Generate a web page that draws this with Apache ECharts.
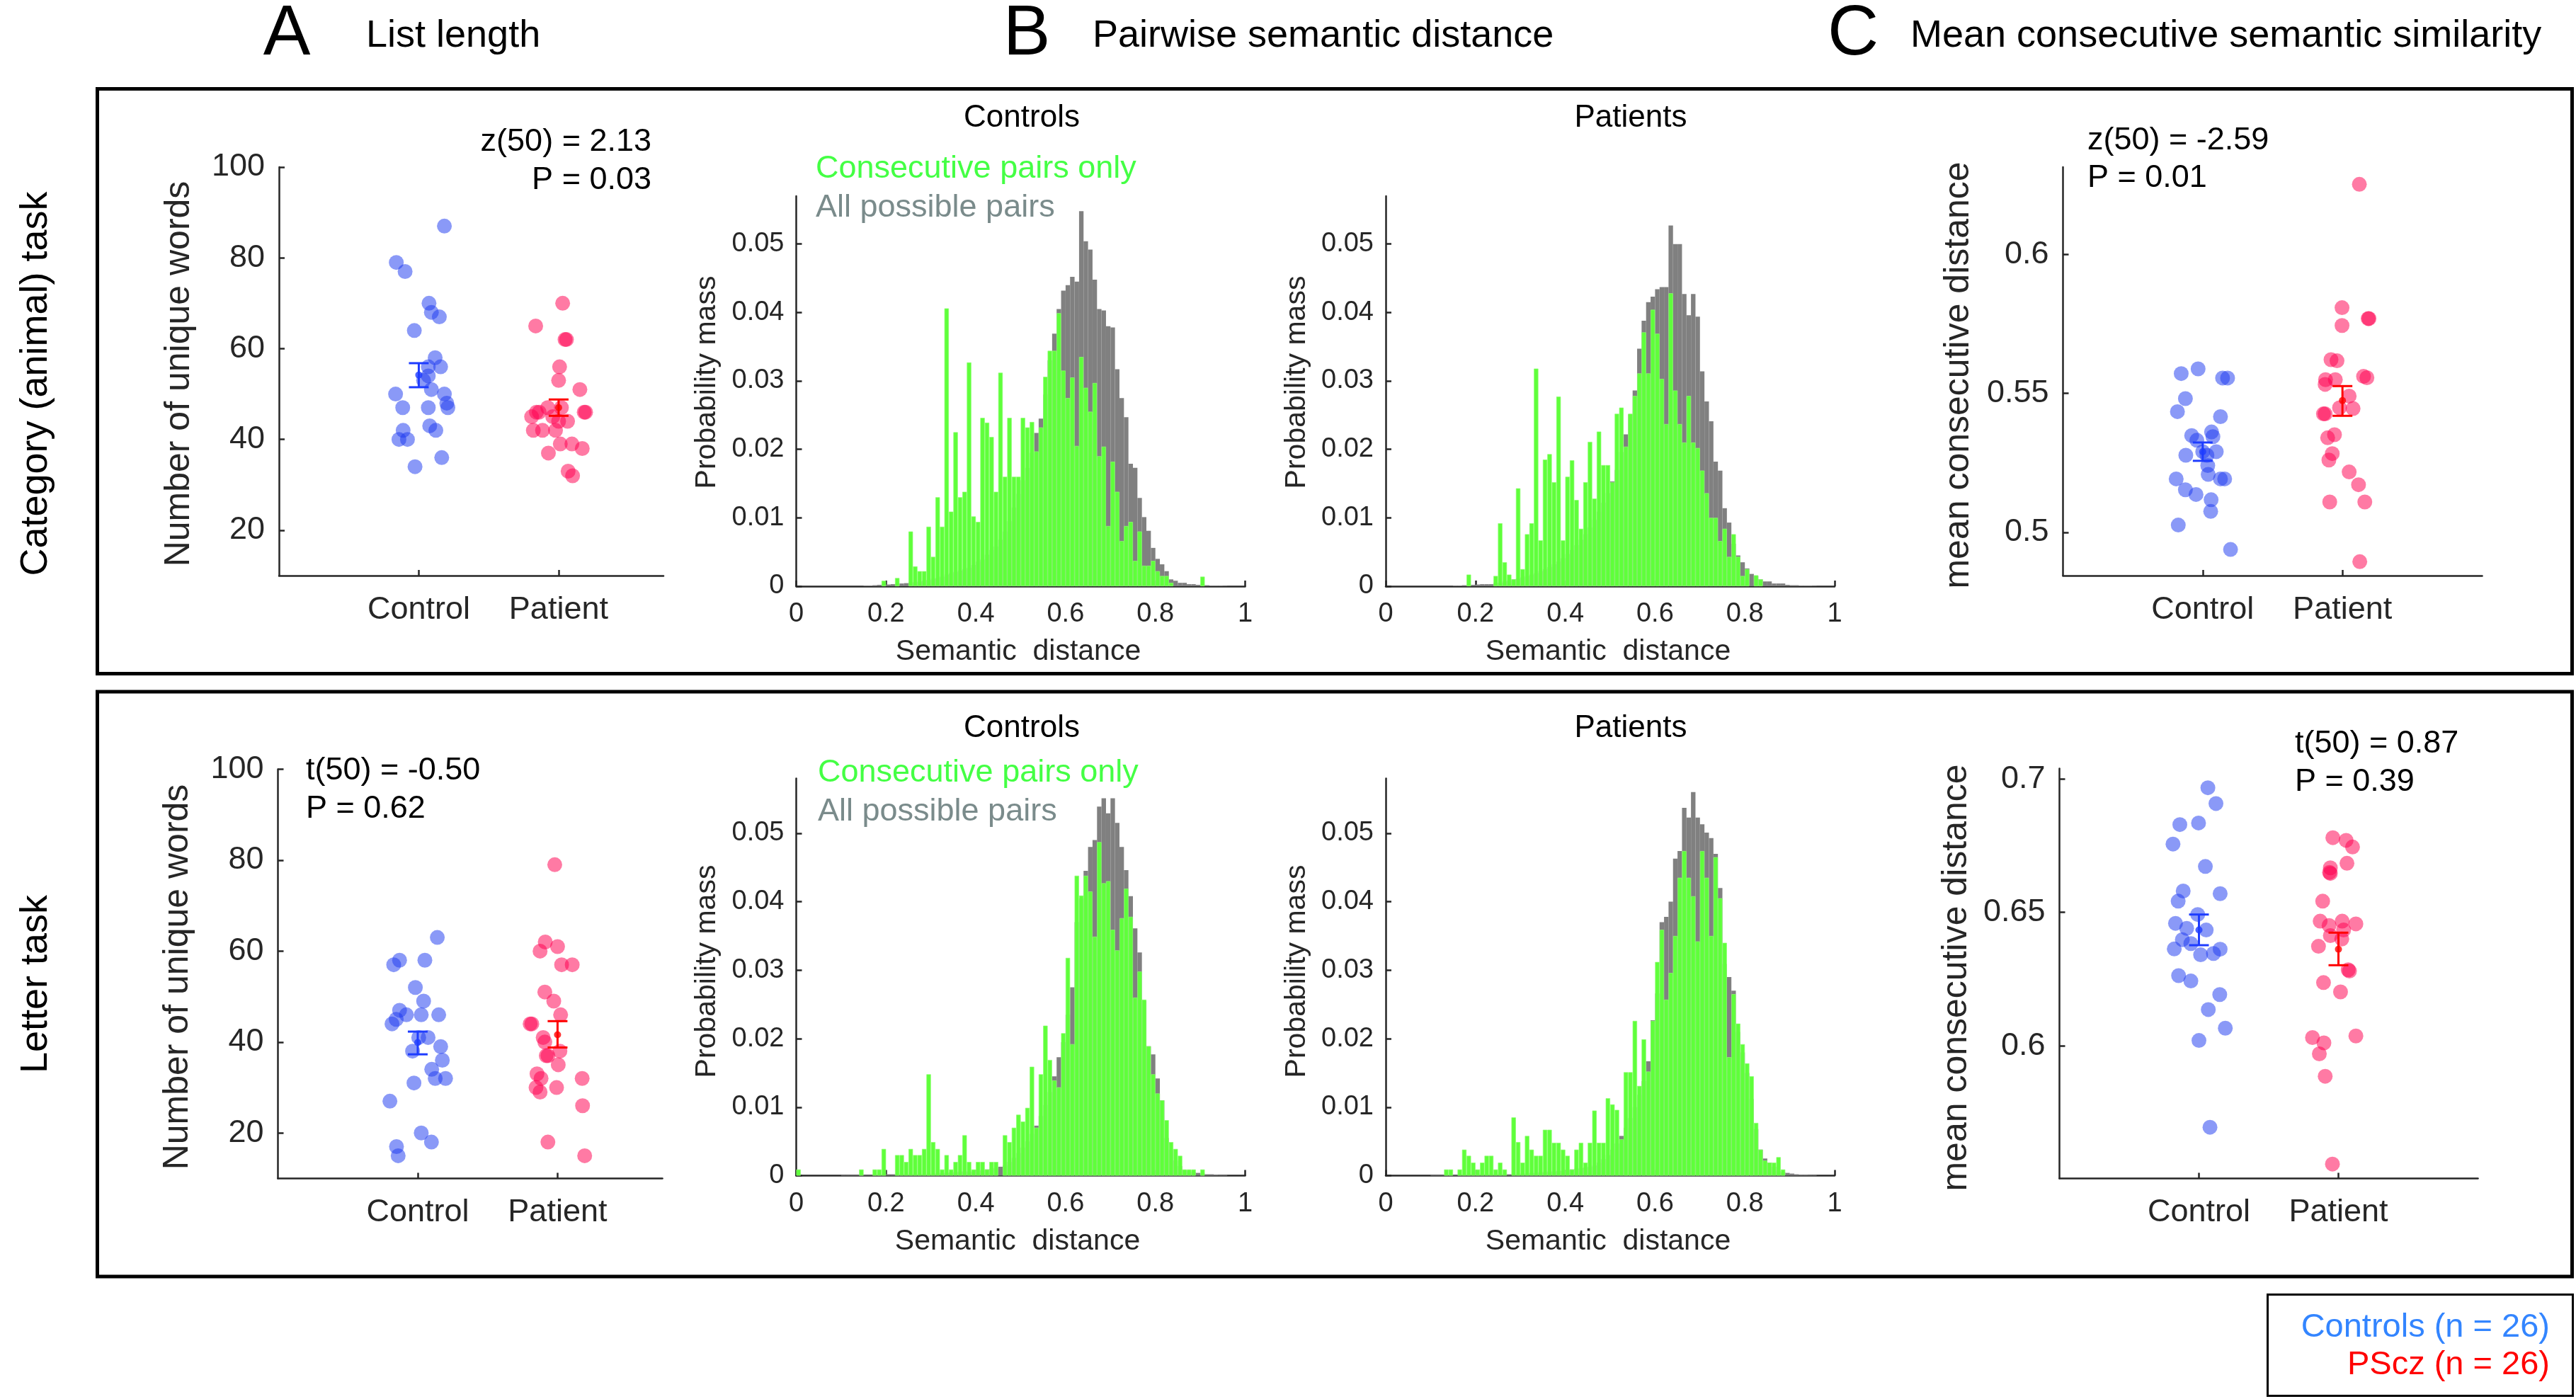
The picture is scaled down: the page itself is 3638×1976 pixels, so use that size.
<!DOCTYPE html>
<html>
<head>
<meta charset="utf-8">
<script src="https://cdn.jsdelivr.net/npm/echarts@6/dist/echarts.min.js"></script>
<style>
html,body{margin:0;padding:0;background:#ffffff;}
#chart{width:3638px;height:1976px;}
</style>
</head>
<body>
<div id="chart"></div>
<script>
// ================= DATA =================
const groupNames = ['Control', 'Patient'];
const groupPositions = [1, 2];

// Panel A: number of unique words, [jittered x, value]
const listLenAnimalCtrl = [[1.183,87],[0.839,79],[0.902,77],[1.073,70],[1.090,68],[1.147,67],[0.968,64],[1.117,58],[1.068,56],[1.156,56],[1.068,54],[1.034,53],[1.090,51],[0.834,50],[1.183,50],[1.200,48],[1.208,47],[0.885,47],[1.068,47],[0.888,42],[1.078,43],[1.122,42],[0.858,40],[0.919,40],[1.164,36],[0.973,34]];
const listLenAnimalPat = [[2.029,70],[1.836,65],[2.056,62],[2.046,62],[2.007,56],[2.000,53],[2.152,51],[1.922,47],[2.020,47],[1.861,46],[1.841,46],[2.183,46],[2.193,46],[1.807,45],[1.958,45],[2.000,44],[2.064,44],[1.819,42],[1.885,42],[1.978,42],[2.012,39],[2.095,39],[2.169,38],[1.927,37],[2.068,33],[2.100,32]];
const listLenLetterCtrl = [[1.140,63],[0.870,58],[0.828,57],[1.051,58],[0.983,52],[1.042,49],[0.870,47],[0.919,46],[1.025,46],[1.150,46],[0.846,45],[0.816,44],[1.007,41],[1.074,41],[1.164,39],[0.963,38],[1.176,36],[1.100,34],[1.125,32],[1.199,32],[0.973,31],[0.801,27],[1.025,20],[1.098,18],[0.848,17],[0.860,15]];
const listLenLetterPat = [[1.980,79],[1.912,62],[2.000,61],[1.875,60],[2.029,57],[2.105,57],[1.909,51],[1.973,49],[2.022,46],[1.804,44],[1.816,44],[1.897,41],[1.909,40],[2.017,38],[1.919,37],[1.931,37],[2.005,35],[1.853,33],[1.882,32],[2.176,32],[1.846,30],[1.993,30],[1.875,29],[2.179,26],[1.931,18],[2.194,15]];

// Panel C: mean consecutive distance, [jittered x, value]
const consecAnimalCtrl = [[0.967,0.5588],[0.846,0.5571],[1.142,0.5555],[1.178,0.5555],[0.876,0.5481],[0.819,0.5434],[1.127,0.5416],[0.921,0.5348],[1.063,0.5361],[1.073,0.5344],[0.958,0.5331],[1.000,0.5290],[1.097,0.5290],[0.879,0.5277],[1.030,0.5277],[1.036,0.5240],[1.039,0.5208],[0.810,0.5192],[1.127,0.5192],[1.157,0.5192],[0.876,0.5153],[0.952,0.5136],[1.060,0.5117],[1.057,0.5075],[0.825,0.5026],[1.199,0.4938]];
const consecAnimalPat = [[2.121,0.6252],[1.997,0.5808],[2.184,0.5769],[2.190,0.5769],[1.997,0.5744],[1.918,0.5621],[1.961,0.5617],[1.879,0.5549],[1.949,0.5549],[2.151,0.5561],[2.175,0.5556],[1.876,0.5532],[2.048,0.5490],[1.979,0.5448],[2.076,0.5445],[1.864,0.5426],[1.876,0.5426],[1.943,0.5351],[1.894,0.5340],[1.927,0.5283],[1.903,0.5260],[2.048,0.5217],[2.115,0.5171],[1.909,0.5109],[2.160,0.5109],[2.124,0.4894]];
const consecLetterCtrl = [[1.064,0.6967],[1.122,0.6908],[0.997,0.6835],[0.863,0.6829],[0.814,0.6756],[1.046,0.6672],[0.887,0.6580],[1.152,0.6570],[0.851,0.6542],[0.991,0.6492],[0.832,0.6459],[0.912,0.6440],[1.052,0.6434],[0.881,0.6398],[0.942,0.6383],[0.823,0.6363],[1.152,0.6362],[1.012,0.6341],[1.104,0.6346],[0.854,0.6263],[0.942,0.6243],[1.149,0.6192],[1.067,0.6136],[1.189,0.6066],[1.000,0.6020],[1.079,0.5695]];
const consecLetterPat = [[1.960,0.6780],[2.055,0.6770],[2.101,0.6745],[2.061,0.6684],[1.942,0.6667],[1.936,0.6650],[1.942,0.6646],[1.887,0.6542],[1.869,0.6467],[2.027,0.6467],[2.125,0.6457],[1.933,0.6451],[2.037,0.6434],[1.942,0.6413],[2.024,0.6400],[1.857,0.6373],[2.070,0.6285],[2.079,0.6280],[1.893,0.6237],[2.015,0.6202],[2.125,0.6037],[1.814,0.6031],[1.896,0.6011],[1.863,0.5970],[1.905,0.5886],[1.957,0.5557]];

// group mean with error bar: [x, mean, low, high]
const listLenAnimalSummary = [[1,54.2,51.5,56.8],[2,47.0,45.2,48.8]];
const listLenLetterSummary = [[1,39.9,37.3,42.3],[2,41.6,38.8,44.6]];
const consecAnimalSummary = [[1,0.5290,0.5257,0.5323],[2,0.5474,0.5419,0.5526]];
const consecLetterSummary = [[1,0.6434,0.6377,0.6492],[2,0.6362,0.6302,0.6424]];

// tick values
const ticksListLen = [20,40,60,80,100];
const ticksConsecAnimal = [0.5,0.55,0.6];
const ticksConsecLetter = [0.6,0.65,0.7];
const ticksHistX = [0,0.2,0.4,0.6,0.8,1];
const ticksHistY = [0,0.01,0.02,0.03,0.04,0.05];

// Panel B histograms: probability mass per bin of width 0.01 (bins 0..0.99)
const histBinWidth = 0.01;
const histAnimalCtrlConsec = [0,0,0,0,0,0,0,0,0,0,0,0,0,0,0,0,0,0,0,.0008,0,0,.0012,0,0,
.0080,.0029,.0022,.0022,.0087,.0043,.0130,.0087,.0406,.0109,.0225,.0130,.0138,.0327,.0102,
.0094,.0246,.0239,.0218,.0138,.0312,.0160,.0246,.0160,.0160,.0246,.0232,.0240,.0197,.0232,
.0306,.0344,.0344,.0399,.0315,.0275,.0305,.0205,.0335,.0290,.0255,.0297,.0190,.0204,.0088,
.0182,.0138,.0066,.0088,.0094,.0037,.0080,.0030,.0030,.0037,.0022,.0015,.0015,.0005,
0,0,0,0,0,0,.0014,0,0,0,0,0,0,0,0,0];
const histAnimalCtrlAll = [0,0,0,0,0,0,0,0,0,0,0,0,0,0,0,
.0001,.0001,.00015,.0002,.0002,.00025,.0003,.00035,.0004,.00045,
.0005,.0006,.0007,.0008,.0009,.0011,.0012,.0014,.0017,.0019,
.0021,.0023,.0025,.0027,.0031,.0036,.0039,.0046,.0053,.0058,
.0068,.0080,.0095,.0115,.0135,.0155,.0173,.0195,.0224,.0245,
.0280,.0330,.0369,.0405,.0432,.0440,.0452,.0445,.0548,.0504,
.0492,.0448,.0405,.0403,.0380,.0378,.0317,.0275,.0247,.0179,
.0173,.0129,.0101,.0081,.0056,.0040,.0032,.0022,.0010,.0008,
.0005,.0005,.0003,.0003,.0002,.0002,.00015,.0001,.0001,.0001,
.00005,0,0,0,0];
const histAnimalPatConsec = [0,0,0,0,0,0,0,0,0,0,0,0,0,0,0,0,0,0,.0017,0,0,0,0,0,
.0015,.0092,.0035,.0017,.0010,.0143,.0025,.0076,.0092,.0318,.0067,
.0185,.0193,.0152,.0277,.0067,.0160,.0184,.0126,.0084,.0152,
.0211,.0128,.0226,.0177,.0177,.0152,.0252,.0261,.0204,.0252,
.0278,.0311,.0371,.0311,.0404,.0369,.0303,.0237,.0428,.0286,
.0237,.0210,.0278,.0210,.0202,.0169,.0136,.0100,.0100,.0066,
.0084,.0043,.0076,.0043,.0015,.0025,0,.0016,.0010,
0,0,0,0,0,0,0,0,0,0,0,0,0,0,0,0];
const histAnimalPatAll = [0,0,0,0,0,0,0,0,0,0,0,0,0,0,0,
.0001,.0001,.00015,.0002,.0002,.00025,.0003,.0003,.0003,.0005,
.0005,.0007,.0008,.0010,.0011,.0013,.0015,.0017,.0019,.0022,
.0025,.0028,.0032,.0036,.0041,.0047,.0053,.0060,.0068,.0076,
.0086,.0097,.0109,.0122,.0136,.0153,.0170,.0196,.0222,.0251,
.0286,.0347,.0388,.0415,.0423,.0434,.0437,.0437,.0527,.0500,
.0500,.0427,.0396,.0427,.0394,.0314,.0270,.0241,.0182,.0169,
.0114,.0093,.0062,.0045,.0035,.0026,.0018,.0015,.0010,.0007,
.0007,.0004,.0004,.0004,.0002,.00015,.00015,.0001,.0001,.0001,
.00005,0,0,0,0];
const histLetterCtrlConsec = [.0009,0,0,0,0,0,0,0,0,0,0,0,0,0,.0009,0,0,.0009,.0009,.0039,0,0,
.0030,.0030,.0020,.0039,.0030,.0030,.0039,.0148,.0049,.0039,.0009,.0030,.0009,
.0020,.0030,.0059,.0020,.0009,.0020,.0020,.0009,.0020,.0020,
0,.0059,.0049,.0070,.0089,.0079,.0099,.0159,.0070,.0148,
.0219,.0169,.0139,.0129,.0208,.0318,.0192,.0438,.0409,.0438,
.0415,.0349,.0487,.0427,.0430,.0359,.0329,.0376,.0419,.0378,
.0260,.0298,.0257,.0189,.0148,.0120,.0110,.0081,.0049,.0039,
.0029,.0009,.0009,.0009,0,.0009,0,0,0,0,0,0,0,0,0];
const histLetterCtrlAll = [0,0,0,0,0,0,0,0,0,0,
.0001,.0001,.0001,.0001,.0001,.0001,.0001,.0001,.0001,.0001,
.0002,.0002,.0002,.0002,.0002,.0002,.0002,.0002,.0002,.0002,
.0003,.0003,.0004,.0004,.0005,.0005,.0006,.0006,.0006,.0006,
.0007,.0008,.0009,.0010,.0011,.0013,.0015,.0020,.0026,.0033,
.0041,.0050,.0061,.0073,.0087,.0103,.0122,.0145,.0173,.0195,
.0235,.0275,.0370,.0405,.0445,.0480,.0490,.0539,.0551,.0529,
.0551,.0515,.0480,.0446,.0408,.0361,.0326,.0255,.0189,.0177,
.0142,.0110,.0055,.0038,.0022,.0014,.0008,.0007,.0005,.0004,
.0003,.0002,.0002,.00015,.0001,.0001,0,0,0,0];
const histLetterPatConsec = [0,0,0,0,0,0,0,0,0,0,0,0,0,
.0009,.0009,0,.0009,.0038,.0029,.0019,
.0009,.0019,.0029,.0029,.0009,.0019,.0009,0,.0085,.0049,
.0019,.0058,.0038,.0029,.0029,.0067,.0067,.0048,.0048,.0038,
.0029,.0009,.0038,.0048,.0019,.0048,.0095,.0048,.0048,.0113,
.0104,.0096,.0053,.0151,.0151,.0226,.0131,.0199,.0152,.0226,
.0312,.0359,.0257,.0296,.0350,.0435,.0474,.0435,.0408,.0342,
.0474,.0435,.0350,.0465,.0405,.0340,.0173,.0265,.0222,.0192,
.0164,.0145,.0077,.0038,.0022,.0019,.0019,.0027,.0009,
0,0,0,0,0,0,0,0,0,0,0];
const histLetterPatAll = [0,0,0,0,0,0,0,0,0,0,
.0001,.0001,.0001,.0001,.0001,.0001,.0001,.0001,.0001,.0001,
.0002,.0002,.0002,.0002,.0002,.0002,.0002,.0002,.0002,.0002,
.0003,.0003,.0004,.0004,.0005,.0005,.0006,.0006,.0007,.0007,
.0008,.0009,.0010,.0011,.0012,.0013,.0015,.0019,.0024,.0030,
.0038,.0047,.0058,.0070,.0084,.0100,.0118,.0138,.0167,.0227,
.0266,.0370,.0378,.0400,.0463,.0474,.0537,.0523,.0560,.0523,
.0513,.0501,.0493,.0470,.0420,.0309,.0290,.0270,.0210,.0180,
.0150,.0112,.0068,.0038,.0025,.0019,.0013,.0007,.0005,.0004,
.0003,.0002,.00015,.00015,.0001,.0001,0,0,0,0];

// ================= STYLE / LAYOUT =================
const FONT = "'Liberation Sans', Arial, Helvetica, sans-serif";
const TXT = '#262626';
const CTRL_PT = 'rgba(30,60,240,0.65)';
const PAT_PT = 'rgba(255,0,80,0.65)';
const CTRL_MEAN = '#1e3cff';
const PAT_MEAN = '#ff0000';
const GRAY = '#808080';
const GREEN = '#5fff3b';

const grids = [], xAxes = [], yAxes = [], series = [];

function axisBase() {
  return {
    axisLine: { show: true, onZero: false, lineStyle: { color: TXT, width: 2.5 } },
    splitLine: { show: false },
    axisPointer: { show: false }
  };
}

function addScatterPanel(box, ctrl, pat, summary, yMin, yMax, yTicks, xMax) {
  const i = grids.length;
  grids.push({ left: box.left, top: box.top, width: box.width, height: box.height, containLabel: false });
  xAxes.push(Object.assign(axisBase(), {
    gridIndex: i, type: 'value', min: 0, max: xMax,
    axisTick: { show: true, inside: true, length: 8, customValues: groupPositions, lineStyle: { color: TXT, width: 2.5 } },
    axisLabel: { show: true, customValues: groupPositions, margin: 26, fontSize: 45, fontFamily: FONT, color: TXT,
      formatter: v => groupNames[Math.round(v) - 1] }
  }));
  yAxes.push(Object.assign(axisBase(), {
    gridIndex: i, type: 'value', min: yMin, max: yMax,
    axisTick: { show: true, inside: true, length: 8, customValues: yTicks, lineStyle: { color: TXT, width: 2.5 } },
    axisLabel: { show: true, customValues: yTicks, margin: 20, fontSize: 45, fontFamily: FONT, color: TXT,
      formatter: v => String(v) }
  }));
  series.push({ type: 'scatter', xAxisIndex: i, yAxisIndex: i, data: ctrl, symbol: 'circle', symbolSize: 21,
    itemStyle: { color: CTRL_PT }, z: 2, silent: true });
  series.push({ type: 'scatter', xAxisIndex: i, yAxisIndex: i, data: pat, symbol: 'circle', symbolSize: 21,
    itemStyle: { color: PAT_PT }, z: 2, silent: true });
  series.push({
    type: 'custom', xAxisIndex: i, yAxisIndex: i, data: summary, z: 5, silent: true,
    renderItem: function (params, api) {
      const x = api.value(0), lo = api.value(2), hi = api.value(3);
      const p1 = api.coord([x, lo]), p2 = api.coord([x, hi]);
      const col = params.dataIndex === 0 ? CTRL_MEAN : PAT_MEAN;
      const w = 14, st = { stroke: col, lineWidth: 3 };
      return { type: 'group', children: [
        { type: 'line', shape: { x1: p1[0], y1: p1[1], x2: p2[0], y2: p2[1] }, style: st },
        { type: 'line', shape: { x1: p1[0] - w, y1: p1[1], x2: p1[0] + w, y2: p1[1] }, style: st },
        { type: 'line', shape: { x1: p2[0] - w, y1: p2[1], x2: p2[0] + w, y2: p2[1] }, style: st }
      ]};
    }
  });
  series.push({ type: 'scatter', xAxisIndex: i, yAxisIndex: i, z: 6, silent: true,
    data: summary.map(d => [d[0], d[1]]), symbol: 'circle', symbolSize: 10,
    itemStyle: { color: p => (p.dataIndex === 0 ? CTRL_MEAN : PAT_MEAN) } });
}

function addHistPanel(box, allArr, consecArr, yMax) {
  const i = grids.length;
  grids.push({ left: box.left, top: box.top, width: box.width, height: box.height, containLabel: false });
  xAxes.push(Object.assign(axisBase(), {
    gridIndex: i, type: 'value', min: 0, max: 1,
    axisTick: { show: true, inside: true, length: 8, customValues: ticksHistX, lineStyle: { color: TXT, width: 2.5 } },
    axisLabel: { show: true, customValues: ticksHistX, margin: 21, fontSize: 38, fontFamily: FONT, color: TXT,
      formatter: v => String(v) }
  }));
  yAxes.push(Object.assign(axisBase(), {
    gridIndex: i, type: 'value', min: 0, max: yMax,
    axisTick: { show: true, inside: true, length: 8, customValues: ticksHistY, lineStyle: { color: TXT, width: 2.5 } },
    axisLabel: { show: true, customValues: ticksHistY, margin: 17, fontSize: 38, fontFamily: FONT, color: TXT,
      formatter: v => String(v) }
  }));
  const toPairs = arr => arr.map((v, k) => [(k + 0.5) * histBinWidth, v]).filter(d => d[1] > 0);
  series.push({ type: 'bar', xAxisIndex: i, yAxisIndex: i, data: toPairs(allArr), barWidth: '100%', barGap: '-100%',
    itemStyle: { color: GRAY }, z: 2, silent: true });
  series.push({ type: 'bar', xAxisIndex: i, yAxisIndex: i, data: toPairs(consecArr), barWidth: '100%', barGap: '-100%',
    itemStyle: { color: GREEN, borderColor: '#8dff70', borderWidth: 0.7 }, z: 3, silent: true });
}

// Row 1: category (animal) task
addScatterPanel({ left: 394, top: 236, width: 543, height: 577 }, listLenAnimalCtrl, listLenAnimalPat, listLenAnimalSummary, 10, 100, ticksListLen, 2.75);
addHistPanel({ left: 1124.5, top: 277, width: 634, height: 551 }, histAnimalCtrlAll, histAnimalCtrlConsec, 0.057);
addHistPanel({ left: 1957, top: 277, width: 634, height: 551 }, histAnimalPatAll, histAnimalPatConsec, 0.057);
addScatterPanel({ left: 2913.5, top: 236, width: 592, height: 577 }, consecAnimalCtrl, consecAnimalPat, consecAnimalSummary, 0.4844, 0.6314, ticksConsecAnimal, 3);
// Row 2: letter task
addScatterPanel({ left: 392.5, top: 1086.5, width: 543, height: 578 }, listLenLetterCtrl, listLenLetterPat, listLenLetterSummary, 10, 100, ticksListLen, 2.75);
addHistPanel({ left: 1124.5, top: 1099.5, width: 634, height: 561 }, histLetterCtrlAll, histLetterCtrlConsec, 0.058);
addHistPanel({ left: 1957, top: 1099.5, width: 634, height: 561 }, histLetterPatAll, histLetterPatConsec, 0.058);
addScatterPanel({ left: 2908.5, top: 1085.5, width: 591, height: 579 }, consecLetterCtrl, consecLetterPat, consecLetterSummary, 0.5503, 0.7039, ticksConsecLetter, 3);

// ================= TEXT / FRAMES =================
function txt(x, y, s, size, o) {
  o = o || {};
  return { type: 'text', x: x, y: y, rotation: o.rot || 0, z: 100, silent: true,
    style: { text: s, fontSize: size, fontFamily: FONT, fill: o.color || '#000', align: o.align || 'left',
      verticalAlign: 'middle', fontWeight: 'normal' } };
}
function frame(x, y, w, h, lw) {
  return { type: 'rect', z: 100, silent: true, shape: { x: x, y: y, width: w, height: h },
    style: { fill: 'none', stroke: '#000', lineWidth: lw } };
}
const ROT = Math.PI / 2;
const graphic = [
  frame(137.5, 125.5, 3495, 826, 5),
  frame(137.5, 977, 3495, 826, 5),
  frame(3202.5, 1828.5, 431, 143, 3),
  // section titles
  txt(405, 49, 'A', 100, { align: 'center' }),
  txt(517, 51, 'List length', 54),
  txt(1450, 49, 'B', 100, { align: 'center' }),
  txt(1543, 51, 'Pairwise semantic distance', 54),
  txt(2617, 49, 'C', 100, { align: 'center' }),
  txt(2698, 51, 'Mean consecutive semantic similarity', 54),
  // row labels
  txt(51, 542, 'Category (animal) task', 54, { align: 'center', rot: ROT }),
  txt(51, 1390, 'Letter task', 54, { align: 'center', rot: ROT }),
  // scatter axis names
  txt(253, 528, 'Number of unique words', 50, { align: 'center', rot: ROT, color: TXT }),
  txt(251, 1380, 'Number of unique words', 50, { align: 'center', rot: ROT, color: TXT }),
  txt(2766, 530, 'mean consecutive distance', 50, { align: 'center', rot: ROT, color: TXT }),
  txt(2763, 1381, 'mean consecutive distance', 50, { align: 'center', rot: ROT, color: TXT }),
  // stats
  txt(920, 201, 'z(50) = 2.13', 45, { align: 'right' }),
  txt(920, 255, 'P = 0.03', 45, { align: 'right' }),
  txt(2948, 199, 'z(50) = -2.59', 45),
  txt(2948, 252, 'P = 0.01', 45),
  txt(432, 1089, 't(50) = -0.50', 45),
  txt(432, 1143, 'P = 0.62', 45),
  txt(3241, 1051, 't(50) = 0.87', 45),
  txt(3241, 1105, 'P = 0.39', 45),
  // histogram texts row 1
  txt(1443, 167, 'Controls', 44, { align: 'center' }),
  txt(2303, 167, 'Patients', 44, { align: 'center' }),
  txt(1152, 239, 'Consecutive pairs only', 45, { color: '#44ff44' }),
  txt(1152, 294, 'All possible pairs', 45, { color: '#7a8b8b' }),
  txt(999, 540, 'Probability mass', 41, { align: 'center', rot: ROT, color: TXT }),
  txt(1832, 540, 'Probability mass', 41, { align: 'center', rot: ROT, color: TXT }),
  txt(1438, 921, 'Semantic  distance', 41, { align: 'center', color: TXT }),
  txt(2271, 921, 'Semantic  distance', 41, { align: 'center', color: TXT }),
  // histogram texts row 2
  txt(1443, 1029, 'Controls', 44, { align: 'center' }),
  txt(2303, 1029, 'Patients', 44, { align: 'center' }),
  txt(1155, 1092, 'Consecutive pairs only', 45, { color: '#44ff44' }),
  txt(1155, 1147, 'All possible pairs', 45, { color: '#7a8b8b' }),
  txt(999, 1372, 'Probability mass', 41, { align: 'center', rot: ROT, color: TXT }),
  txt(1832, 1372, 'Probability mass', 41, { align: 'center', rot: ROT, color: TXT }),
  txt(1437, 1754, 'Semantic  distance', 41, { align: 'center', color: TXT }),
  txt(2271, 1754, 'Semantic  distance', 41, { align: 'center', color: TXT }),
  // group legend
  txt(3601, 1875, 'Controls (n = 26)', 47, { align: 'right', color: '#3385ff' }),
  txt(3601, 1928, 'PScz (n = 26)', 47, { align: 'right', color: '#ff0000' })
];

const chart = echarts.init(document.getElementById('chart'), null, { renderer: 'canvas', width: 3638, height: 1976 });
chart.setOption({
  animation: false,
  backgroundColor: '#ffffff',
  textStyle: { fontFamily: FONT },
  grid: grids,
  xAxis: xAxes,
  yAxis: yAxes,
  series: series,
  graphic: graphic
});
</script>
</body>
</html>
